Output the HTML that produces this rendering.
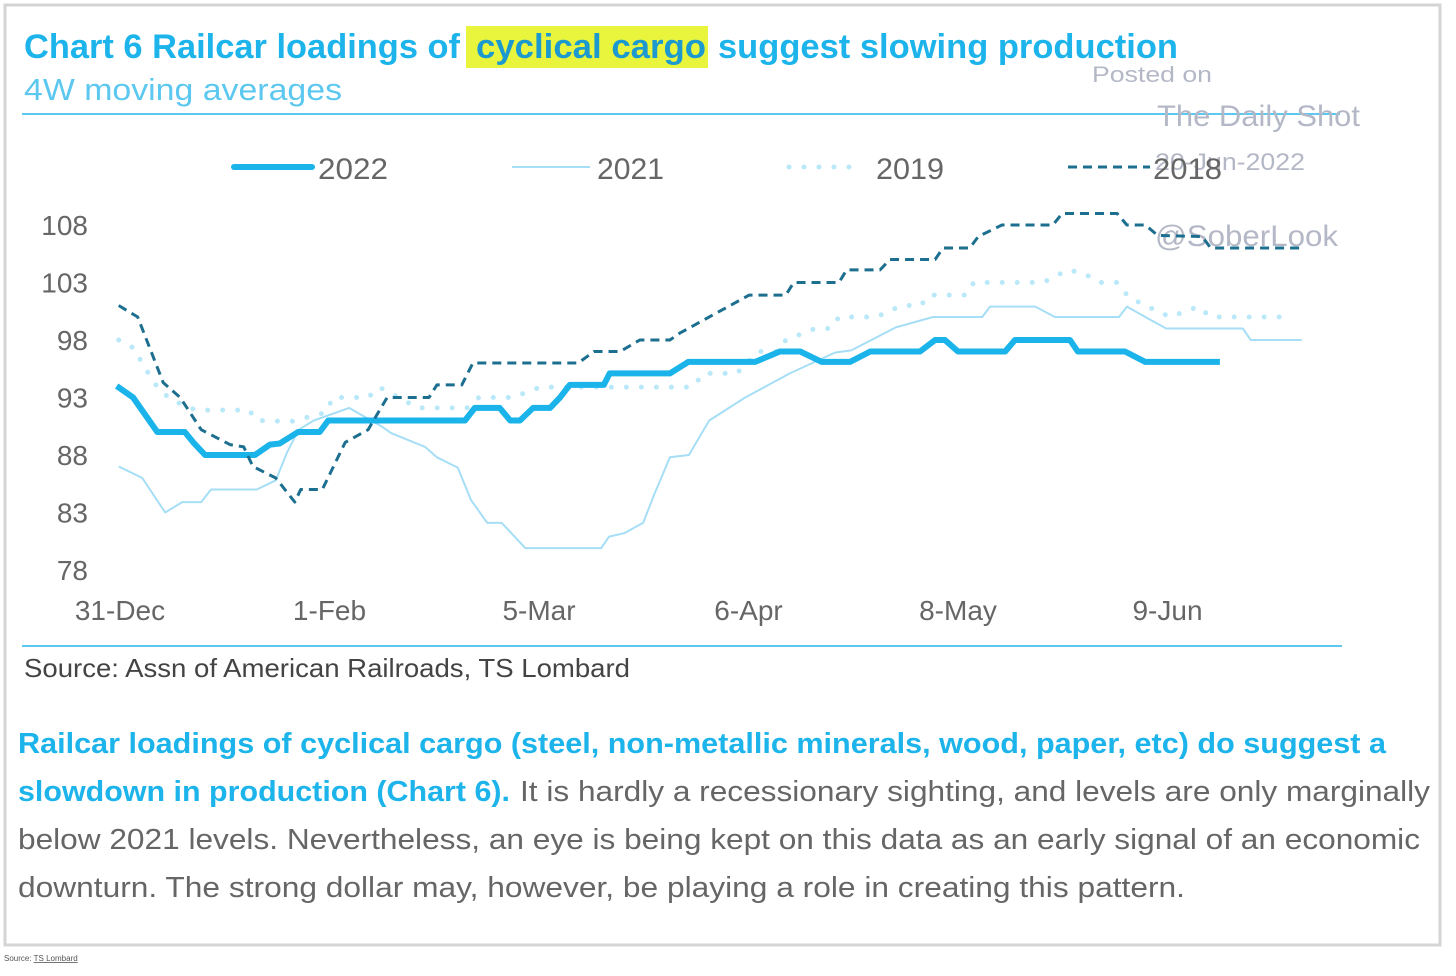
<!DOCTYPE html>
<html><head><meta charset="utf-8"><style>
html,body{margin:0;padding:0;background:#fff;}
svg{display:block;font-family:"Liberation Sans",sans-serif;}
</style></head><body>
<svg id="chart" width="1456" height="976" viewBox="0 0 1456 976">
<rect x="5" y="5" width="1435" height="940" fill="#fff" stroke="#d4d4d4" stroke-width="3"/>
<rect x="466" y="26" width="242" height="42" fill="#e8f53c"/>
<text x="24" y="58" font-size="34" font-weight="bold" fill="#1cb4ea"><tspan textLength="436" lengthAdjust="spacingAndGlyphs">Chart 6 Railcar loadings of</tspan><tspan x="476" textLength="230" lengthAdjust="spacingAndGlyphs" fill="#1c9ad0">cyclical cargo</tspan><tspan x="718" textLength="460" lengthAdjust="spacingAndGlyphs">suggest slowing production</tspan></text>
<text x="24" y="100" font-size="31" fill="#5cc8f0" textLength="318" lengthAdjust="spacingAndGlyphs">4W moving averages</text>
<line x1="22" y1="114" x2="1340" y2="114" stroke="#5cc8f0" stroke-width="2"/>
<g fill="#b4b8c6">
<text x="1092" y="82" font-size="22" textLength="120" lengthAdjust="spacingAndGlyphs">Posted on</text>
<text x="1157" y="126" font-size="30" textLength="203" lengthAdjust="spacingAndGlyphs">The Daily Shot</text>
<text x="1155" y="170" font-size="24" textLength="150" lengthAdjust="spacingAndGlyphs">20-Jun-2022</text>
<text x="1155" y="246" font-size="30" textLength="183" lengthAdjust="spacingAndGlyphs">@SoberLook</text>
</g>
<g id="legend" font-size="30" fill="#666">
<g><line x1="234" y1="167" x2="312" y2="167" stroke="#1ab3ea" stroke-width="6" stroke-linecap="round"/><text x="318" y="179" textLength="70" lengthAdjust="spacingAndGlyphs">2022</text></g>
<g><line x1="512" y1="167" x2="590" y2="167" stroke="#a6def6" stroke-width="2"/><text x="597" y="179" textLength="67" lengthAdjust="spacingAndGlyphs">2021</text></g>
<g><line x1="789" y1="167" x2="862" y2="167" stroke="#b9e8f9" stroke-width="5" stroke-linecap="round" stroke-dasharray="0 15"/><text x="876" y="179" textLength="68" lengthAdjust="spacingAndGlyphs">2019</text></g>
<g><line x1="1068" y1="167" x2="1150" y2="167" stroke="#1d6f8f" stroke-width="3" stroke-dasharray="9 6"/><text x="1153" y="179" textLength="69" lengthAdjust="spacingAndGlyphs">2018</text></g>
</g>
<g id="yaxis"></g>
<g id="xaxis"></g>
<g id="plot"></g>
<line x1="22" y1="646" x2="1342" y2="646" stroke="#5cc8f0" stroke-width="2"/>
<text x="24" y="677" font-size="26" fill="#444" textLength="606" lengthAdjust="spacingAndGlyphs">Source: Assn of American Railroads, TS Lombard</text>
<g font-size="29">
<text x="18" y="753" font-weight="bold" fill="#1cb4ea" textLength="1368" lengthAdjust="spacingAndGlyphs">Railcar loadings of cyclical cargo (steel, non-metallic minerals, wood, paper, etc) do suggest a</text>
<text x="18" y="801" font-weight="bold" fill="#1cb4ea" textLength="492" lengthAdjust="spacingAndGlyphs">slowdown in production (Chart 6).</text>
<text x="520" y="801" fill="#666" textLength="910" lengthAdjust="spacingAndGlyphs">It is hardly a recessionary sighting, and levels are only marginally</text>
<text x="18" y="849" fill="#666" textLength="1402" lengthAdjust="spacingAndGlyphs">below 2021 levels. Nevertheless, an eye is being kept on this data as an early signal of an economic</text>
<text x="18" y="897" fill="#666" textLength="1167" lengthAdjust="spacingAndGlyphs">downturn. The strong dollar may, however, be playing a role in creating this pattern.</text>
</g>
<text x="4" y="961" font-size="8" fill="#555">Source: <tspan text-decoration="underline">TS Lombard</tspan></text>
</svg>
<script>
const yTicks = [78, 83, 88, 93, 98, 103, 108];
const xTickLabels = ["31-Dec", "1-Feb", "5-Mar", "6-Apr", "8-May", "9-Jun"];
const xTickDays = [0, 32, 64, 96, 128, 160];
const days2022 = [-0.5,2,5.7,9.9,11.2,13,20.6,22.9,24.4,27.2,30.5,31.8,52.7,54.2,58,59.6,61.1,63.1,65.7,67.2,68.7,73.9,74.8,84,86.8,97,100.8,103.9,107.2,111.5,114.6,122.2,124.5,126,128,135.2,136.7,145.1,146.3,153.5,156.6,168];
const vals2022 = [94,93,90,90,89.1,88,88,88.9,89,90,90,91,91,92.1,92.1,91,91,92.1,92.1,93,94.1,94.1,95.1,95.1,96.1,96.1,97,97,96.1,96.1,97,97,98,98,97,97,98,98,97,97,96.1,96.1];
const days2021 = [-0.2,3.4,6.9,9.5,12.4,13.9,20.9,23.8,25.5,27.3,29.6,35,40.2,41.4,46.6,48.4,51.6,53.6,56.1,58.3,61.9,73.5,74.7,77,79.9,81.7,84,86.9,90,95.5,102.3,109.2,111.7,118.5,124.2,131.7,132.9,139.8,142.8,152.6,153.8,156.6,159.8,171.5,172.7,180.5];
const vals2021 = [87,86,83,83.9,83.9,85,85,85.8,88.2,90.2,91,92.1,90.4,89.9,88.7,87.8,86.9,84.1,82.1,82.1,79.9,79.9,80.9,81.2,82.1,84.7,87.8,88,91,93,95.1,96.9,97.1,99.1,100,100,100.9,100.9,100,100,100.9,100,99,99,98,98];
const days2019 = [-0.2,2.1,4,5.7,7.8,11.6,19.7,20.9,26.1,31.5,32.5,37.9,39.6,45.5,53,54.8,60,64.2,87.4,89.2,94.2,97.5,100.5,101.7,106.2,108.6,109.8,115.5,119.4,122.3,123.6,129.2,130.4,141,144.8,147.2,149.7,152.3,154.1,158.1,160.4,164.7,166.6,179];
const vals2019 = [98,97.3,95.4,93.9,92.8,91.9,91.9,91,90.9,91.7,93,93,93.9,92.1,92.1,93,93,93.9,93.9,95.1,95.1,97,97,98,99,99,100,100,101,101,101.9,101.9,103,103,104.1,103.8,103,103,101.7,100.6,100,100.9,100,100];
const days2018 = [-0.2,2.7,6.6,9.2,12.4,16.8,18.9,20.3,23.8,26.7,27.6,30.9,34.4,37.9,40.8,47.2,48.4,52.2,53.9,70,72.4,76.4,79.4,84,85.5,96.1,101.7,102.9,109.8,111,116.1,117.6,124.5,125.7,129.8,131.1,134.7,142.5,143.9,152.3,153.8,156.6,158.5,165.3,166.6,180.5];
const vals2018 = [101,100,94.3,93,90.2,88.9,88.7,87,86,83.9,85,85,89.1,90.2,93,93,94.1,94.1,96,96,97,97,98,98,98.6,101.9,101.9,103,103,104.1,104.1,105,105,106,106,107,108,108,109,109,108,108,107.1,107,106,106];

const NS = "http://www.w3.org/2000/svg";
const X0 = 120, PXD = 6.547, Y0 = 570, PXV = 11.5;
function xScale(d){ return X0 + d * PXD; }
function yScale(v){ return Y0 - (v - 78) * PXV; }
function mk(tag, attrs, parent){ const e = document.createElementNS(NS, tag); for (const k in attrs) e.setAttribute(k, attrs[k]); parent.appendChild(e); return e; }

const ya = document.getElementById('yaxis');
yTicks.forEach(v => {
  const t = mk('text', {x: 88, y: yScale(v) + 10, 'font-size': 28, fill: '#666', 'text-anchor': 'end'}, ya);
  t.textContent = v;
  
  
});
const xa = document.getElementById('xaxis');
xTickLabels.forEach((lab, i) => {
  const t = mk('text', {x: xScale(xTickDays[i]), y: 620, 'font-size': 28, fill: '#666', 'text-anchor': 'middle'}, xa);
  t.textContent = lab;
  
  
});

const plot = document.getElementById('plot');
function series(days, vals, style, name){
  const d = days.map((dd, i) => (i ? 'L' : 'M') + xScale(dd).toFixed(1) + ' ' + yScale(vals[i]).toFixed(1)).join(' ');
  const p = mk('path', Object.assign({d: d, fill: 'none', 'stroke-linejoin': 'round'}, style), plot);
  
  
}
series(days2021, vals2021, {stroke: '#a6def6', 'stroke-width': 2}, 'line-2021');
series(days2019, vals2019, {stroke: '#b9e8f9', 'stroke-width': 5, 'stroke-linecap': 'round', 'stroke-dasharray': '0 15'}, 'line-2019');
series(days2022, vals2022, {stroke: '#1ab3ea', 'stroke-width': 6}, 'line-2022');
series(days2018, vals2018, {stroke: '#1d6f8f', 'stroke-width': 3, 'stroke-dasharray': '9 6'}, 'line-2018');
</script>
</body></html>
